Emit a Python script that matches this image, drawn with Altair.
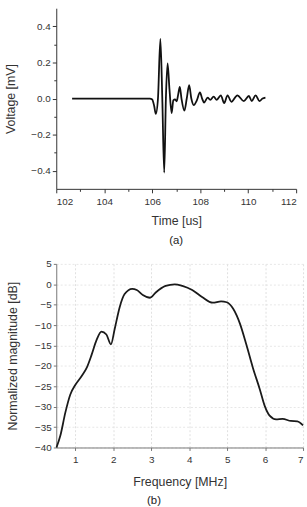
import altair as alt
import pandas as pd

# ---- (a) time-domain waveform ----
time_us = [102.66, 105.0, 105.9, 106.0, 106.08, 106.15, 106.24, 106.34, 106.42, 106.50,
           106.57, 106.64, 106.72, 106.81, 106.88, 106.95, 107.02, 107.08, 107.15, 107.22,
           107.34, 107.44, 107.54, 107.63, 107.73, 107.86, 107.99, 108.08, 108.16, 108.31,
           108.42, 108.56, 108.69, 108.86, 109.0, 109.14, 109.30, 109.55, 109.82, 110.03,
           110.15, 110.31, 110.47, 110.60, 110.72]
voltage_mv = [0.0, 0.0, 0.0, -0.005, -0.04, -0.085, 0.0, 0.33, 0.0, -0.41,
              0.0, 0.195, 0.05, -0.08, -0.01, -0.005, -0.015, 0.02, 0.065, 0.0,
              -0.067, 0.0, 0.074, 0.0, -0.036, -0.01, 0.034, 0.0, -0.022, 0.005,
              -0.007, 0.011, -0.007, 0.018, -0.025, 0.018, -0.018, 0.018, -0.014, 0.014,
              -0.014, 0.018, -0.014, 0.0, 0.005]

# ---- (b) normalized spectrum ----
freq_mhz = [0.506, 0.61, 0.74, 0.87, 1.0, 1.17, 1.30, 1.43, 1.56, 1.69,
            1.82, 1.94, 2.04, 2.17, 2.30, 2.50, 2.62, 2.78, 2.97, 3.12,
            3.38, 3.62, 3.82, 4.08, 4.34, 4.62, 4.84, 4.99, 5.16, 5.34,
            5.51, 5.68, 5.86, 5.99, 6.12, 6.29, 6.46, 6.68, 6.85, 7.0]
magnitude_db = [-40.0, -37.0, -31.4, -27.0, -24.7, -22.5, -20.5, -17.3, -13.7, -11.6,
                -12.3, -14.7, -10.9, -5.6, -2.4, -1.1, -1.4, -2.6, -3.3, -2.0,
                -0.4, 0.0, -0.4, -1.4, -3.1, -4.5, -4.2, -4.4, -6.0, -9.7,
                -14.9, -20.5, -25.7, -29.8, -32.2, -33.1, -33.0, -33.5, -33.6, -34.6]

x_ticks_a = list(range(102, 113))
y_ticks_a = [-0.4, -0.3, -0.2, -0.1, 0.0, 0.1, 0.2, 0.3, 0.4]
x_ticks_b = [1, 2, 3, 4, 5, 6, 7]
y_ticks_b = [5, 0, -5, -10, -15, -20, -25, -30, -35, -40]

FONT = "Liberation Sans"

df_a = pd.DataFrame({"t": time_us, "v": voltage_mv})
df_b = pd.DataFrame({"f": freq_mhz, "m": magnitude_db})

chart_a = alt.Chart(df_a).mark_line(
    color="#111111", strokeWidth=1.8, interpolate="monotone"
).encode(
    x=alt.X("t:Q", scale=alt.Scale(domain=[102, 112], nice=False, zero=False),
            axis=alt.Axis(title="Time [us]", values=x_ticks_a,
                          labelExpr="datum.value % 2 == 0 ? datum.label : ''",
                          tickSize={"condition": {"test": "datum.value % 2 == 0", "value": 4}, "value": 2.5},
                          labelPadding=4, titlePadding=8, grid=False, labelOverlap=False,
                          domainColor="#333333", tickColor="#333333")),
    y=alt.Y("v:Q", scale=alt.Scale(domain=[-0.5, 0.5], nice=False, zero=False),
            axis=alt.Axis(title="Voltage [mV]", values=y_ticks_a,
                          labelExpr="abs(round(datum.value*10)) % 2 == 0 ? format(datum.value, '.1f') : ''",
                          tickSize={"condition": {"test": "abs(round(datum.value*10)) % 2 == 0", "value": 4}, "value": 2.5},
                          labelPadding=2, titlePadding=14, grid=False, labelOverlap=False,
                          domainColor="#333333", tickColor="#333333")),
).properties(
    width=243, height=183,
    title=alt.TitleParams(text="(a)", orient="bottom", anchor="middle", fontSize=11.5,
                          font=FONT, fontWeight="normal", color="#222222", offset=8)
)

chart_b = alt.Chart(df_b).mark_line(
    color="#1a1a1a", strokeWidth=1.8, interpolate="monotone"
).encode(
    x=alt.X("f:Q", scale=alt.Scale(domain=[0.5, 7], nice=False, zero=False),
            axis=alt.Axis(title="Frequency [MHz]", values=x_ticks_b, tickSize=3,
                          labelPadding=4, titlePadding=12, grid=True,
                          gridColor="#d8d8d8", gridDash=[2, 2], gridWidth=0.8,
                          domainColor="#777777", tickColor="#777777")),
    y=alt.Y("m:Q", scale=alt.Scale(domain=[-40, 5], nice=False, zero=False),
            axis=alt.Axis(title="Normalized magnitude [dB]", values=y_ticks_b, tickSize=3,
                          labelPadding=2, titlePadding=15, grid=True,
                          gridColor="#e0e0e0", gridDash=[2, 2], gridWidth=0.8,
                          domainColor="#777777", tickColor="#777777")),
).properties(
    width=250, height=186,
    title=alt.TitleParams(text="(b)", orient="bottom", anchor="middle", fontSize=11.5,
                          font=FONT, fontWeight="normal", color="#222222", offset=7, dx=-26)
)

chart = alt.vconcat(chart_a, chart_b, spacing=13).properties(
    padding={"left": 4, "top": 5, "right": 0, "bottom": 0}
).configure_view(stroke=None).configure_axis(
    labelFont=FONT, titleFont=FONT, labelFontSize=10, titleFontSize=12.5,
    labelColor="#333333", titleColor="#333333", titleFontWeight="normal",
    domainWidth=1, tickWidth=1
)

chart.save("out.html", embed_options={"renderer": "svg", "actions": False})
